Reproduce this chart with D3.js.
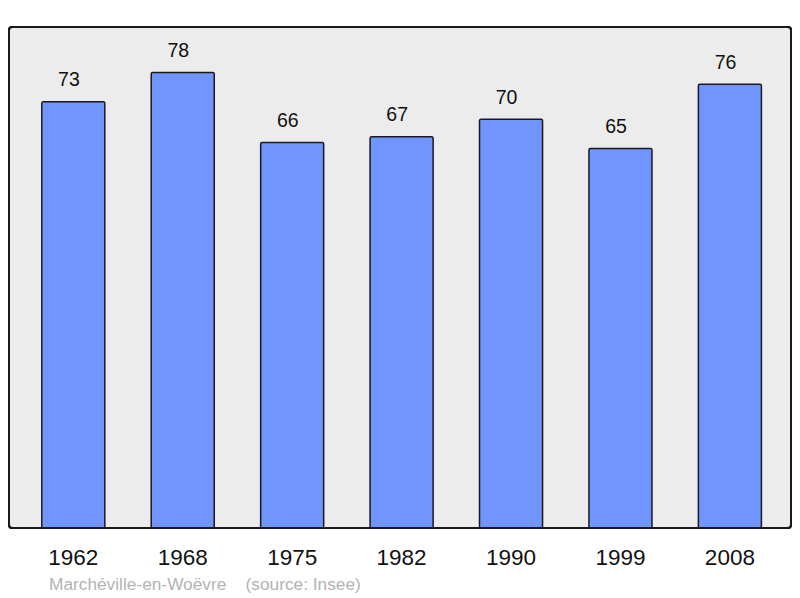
<!DOCTYPE html>
<html>
<head>
  <meta charset="utf-8">
  <title>Marchéville-en-Woëvre</title>
  <style>
    body { margin: 0; background: #fff; }
    svg { display: block; font-family: "Liberation Sans", Arial, sans-serif; }
    .panel { fill: #ececec; stroke: #1a1a1a; stroke-width: 2px; }
    .bar { fill: #7095ff; stroke: #1a1a1a; stroke-width: 1.5px; }
    .value { font-size: 19.5px; fill: #111; }
    .year { font-size: 22.5px; fill: #111; }
    .credit { font-size: 17.3px; fill: #b3b3b3; white-space: pre; }
  </style>
</head>
<body>
  <script src="https://d3js.org/d3.v7.min.js"></script>
  <script>
    const years = ["1962", "1968", "1975", "1982", "1990", "1999", "2008"];
    const population = [73, 78, 66, 67, 70, 65, 76];
    const place = "Marchéville-en-Woëvre";
    const source = "(source: Insee)";

    const width = 800, height = 598;
    const svg = d3.select("body").append("svg")
      .attr("width", width).attr("height", height);

    const panel = { x0: 9, y0: 27, x1: 791, y1: 528 };

    svg.append("rect")
      .attr("class", "panel")
      .attr("x", panel.x0).attr("y", panel.y0)
      .attr("width", panel.x1 - panel.x0).attr("height", panel.y1 - panel.y0)
      .attr("rx", 3);

    const x = d3.scaleBand()
      .domain(years)
      .range([panel.x0 + 1.6, panel.x1 + 1.6])
      .paddingInner(0.424)
      .paddingOuter(0.285);

    const y = d3.scaleLinear()
      .domain([0, d3.max(population) * 1.1])
      .range([panel.y1, panel.y0]);

    const rows = years.map((yr, i) => ({ year: yr, value: population[i] }));

    svg.selectAll(".bar")
      .data(rows)
      .join("rect")
      .attr("class", "bar")
      .attr("x", d => x(d.year))
      .attr("y", d => y(d.value))
      .attr("width", x.bandwidth())
      .attr("height", d => y(0) - y(d.value))
      .attr("rx", 1.5);

    svg.selectAll(".value")
      .data(rows)
      .join("text")
      .attr("class", "value")
      .attr("x", d => x(d.year) + x.bandwidth() / 2 - 4.4)
      .attr("y", d => y(d.value) - 15.5)
      .attr("text-anchor", "middle")
      .text(d => d.value);

    // redraw frame on top so bars sit inside the border
    svg.append("rect")
      .attr("x", panel.x0).attr("y", panel.y0)
      .attr("width", panel.x1 - panel.x0).attr("height", panel.y1 - panel.y0)
      .attr("rx", 3)
      .attr("fill", "none").attr("stroke", "#1a1a1a").attr("stroke-width", 2);

    const xAxis = d3.axisBottom(x).tickSize(0).tickPadding(0);
    const gx = svg.append("g")
      .attr("transform", `translate(0,${panel.y1})`)
      .call(xAxis);
    gx.select(".domain").remove();
    gx.selectAll("text")
      .attr("class", "year")
      .attr("dy", null)
      .attr("y", 37)
      .attr("fill", "#111");
    gx.attr("font-family", null).attr("font-size", null);

    svg.append("text")
      .attr("class", "credit")
      .attr("x", 49)
      .attr("y", 590)
      .text(place + "    " + source);
  </script>
</body>
</html>
